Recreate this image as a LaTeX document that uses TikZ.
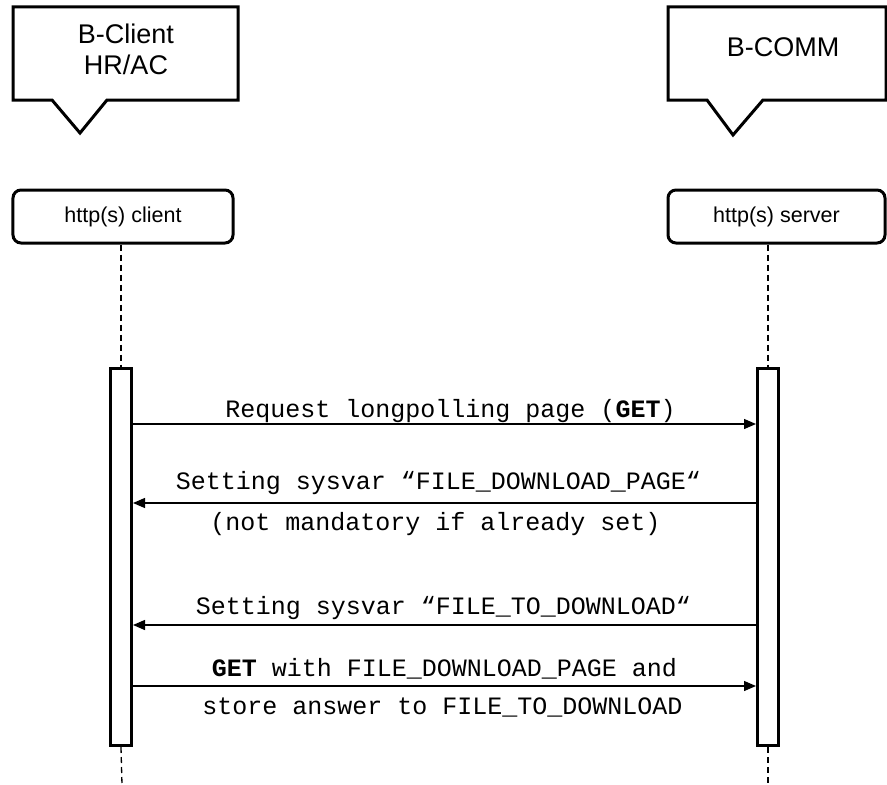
\documentclass[tikz,border=0pt]{standalone}
\usepackage{fontspec}
\setmainfont{Liberation Sans}
\setmonofont{Liberation Mono}
\usetikzlibrary{arrows.meta,calc}
\tikzset{
  callout/.style={draw=black,line width=3bp,line join=miter,fill=white},
  calltext/.style={font=\fontsize{27bp}{31bp}\selectfont,align=center,inner sep=0pt},
  rolebox/.style={draw=black,line width=3bp,rounded corners=8bp,fill=white,
    minimum height=53bp,inner sep=0pt,font=\fontsize{21.5bp}{25bp}\selectfont},
  activebar/.style={draw=black,line width=3bp,fill=white,minimum width=21bp,
    minimum height=377bp,inner sep=0pt},
  lifeline/.style={line width=1.3bp,dash pattern=on 6bp off 4bp},
  msg/.style={line width=1.3bp,-{Triangle[length=12bp,width=10bp]}},
  msglabel/.style={font=\fontsize{25bp}{29bp}\ttfamily,anchor=base,inner sep=0pt}
}
\begin{document}
\begin{tikzpicture}[x=1bp,y=-1bp]
\useasboundingbox (0,0) rectangle (887,785);

% speech-bubble headers
\draw[callout] (13,7) -- (238,7) -- (238,100) -- (107,100) -- (80,133)
  -- (52,100) -- (13,100) -- cycle;
\node[calltext] (hdrL) at (126,49) {B-Client\\HR/AC};
\draw[callout] (668,7) -- (886,7) -- (886,100) -- (763,100) -- (733,135)
  -- (707,100) -- (668,100) -- cycle;
\node[calltext] (hdrR) at (783,47) {B-COMM};

% participants
\node[rolebox,minimum width=220bp] (client) at (123,216.5) {http(s) client};
\node[rolebox,minimum width=217bp] (server) at (776.5,216.5) {http(s) server};

% activation bars
\node[activebar] (barL) at (121,557) {};
\node[activebar] (barR) at (768,557) {};

% lifelines
\coordinate (endL) at (122,785);
\coordinate (endR) at (768,785);
\draw[lifeline] (client.south -| barL.center) -- (barL.north);
\draw[lifeline] (barL.south) -- (endL);
\draw[lifeline] (server.south -| barR.center) -- (barR.north);
\draw[lifeline] (barR.south) -- (endR);

% messages
\coordinate (m1) at (0,424);
\coordinate (m2) at (0,503);
\coordinate (m3) at (0,625);
\coordinate (m4) at (0,686);

\draw[msg] (barL.east |- m1) -- (barR.west |- m1);
\node[msglabel] (l1) at ($(barL.east |- m1)!0.5!(barR.west |- m1)+(6,-7)$)
  {Request longpolling page (\textbf{GET})};

\draw[msg] (barR.west |- m2) -- (barL.east |- m2);
\node[msglabel] (l2a) at ($(barL.east |- m2)!0.5!(barR.west |- m2)+(-6,-14)$)
  {Setting sysvar “FILE\_DOWNLOAD\_PAGE“};
\node[msglabel] (l2b) at ($(barL.east |- m2)!0.5!(barR.west |- m2)+(-9,27)$)
  {(not mandatory if already set)};

\draw[msg] (barR.west |- m3) -- (barL.east |- m3);
\node[msglabel] (l3) at ($(barL.east |- m3)!0.5!(barR.west |- m3)+(-1,-11)$)
  {Setting sysvar “FILE\_TO\_DOWNLOAD“};

\draw[msg] (barL.east |- m4) -- (barR.west |- m4);
\node[msglabel] (l4a) at ($(barL.east |- m4)!0.5!(barR.west |- m4)+(0,-10)$)
  {\textbf{GET} with FILE\_DOWNLOAD\_PAGE and};
\node[msglabel] (l4b) at ($(barL.east |- m4)!0.5!(barR.west |- m4)+(-2,28)$)
  {store answer to FILE\_TO\_DOWNLOAD};
\end{tikzpicture}
\end{document}
